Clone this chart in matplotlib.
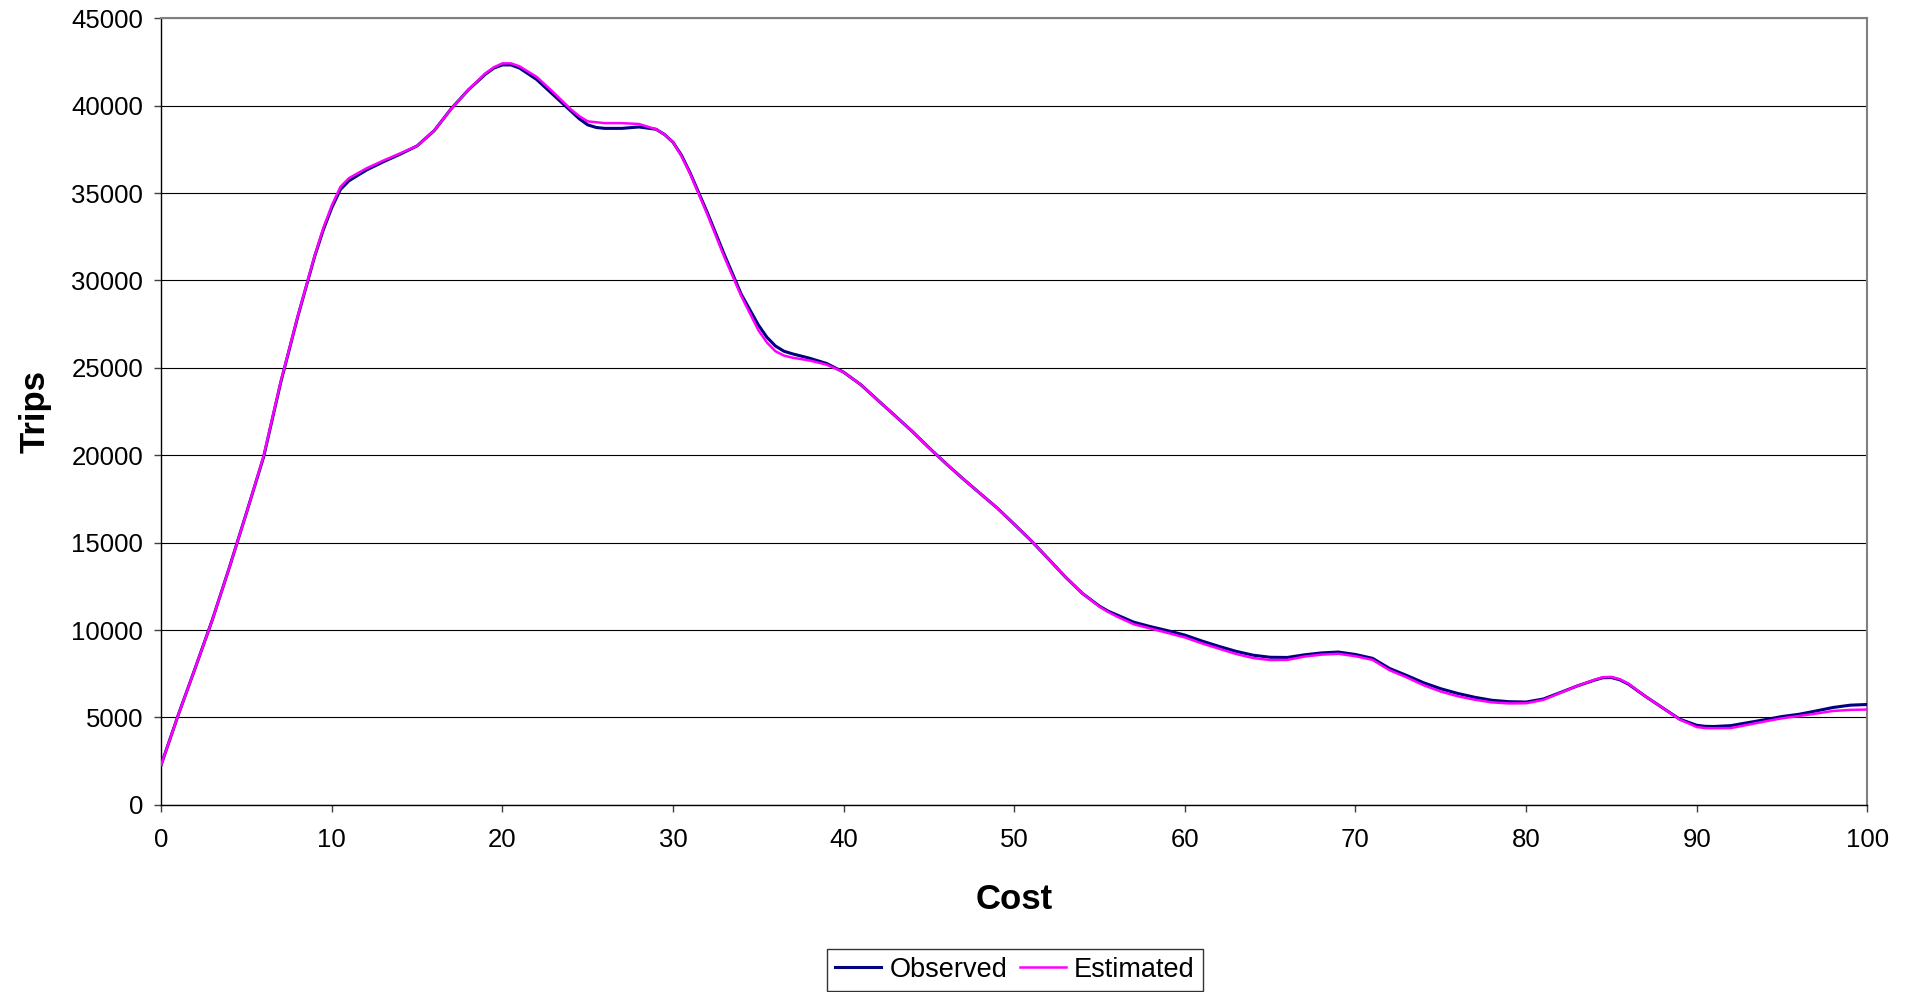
import numpy as np
import matplotlib
matplotlib.use("Agg")
import matplotlib.pyplot as plt

plt.rcParams['font.family'] = ['Liberation Sans', 'DejaVu Sans']

# cost bands (extra half steps where the curve bends)
cost = [
    0, 1, 2, 3, 4, 5, 6, 7, 8, 9, 9.5,
    10, 10.5, 11, 12, 13, 14, 15, 16, 17, 18, 19, 19.5,
    20, 20.5, 21, 22, 23, 24, 24.5, 25, 25.5, 26, 27, 28, 29, 29.5,
    30, 30.5, 31, 32, 33, 34, 35, 35.5, 36, 36.5, 37, 38, 39,
    40, 41, 42, 43, 44, 45, 46, 47, 48, 49,
    50, 51, 52, 53, 54, 55, 55.5, 56, 57, 58, 59,
    60, 61, 62, 63, 64, 65, 66, 67, 68, 69,
    70, 71, 72, 73, 74, 75, 76, 77, 78, 79,
    80, 81, 82, 83, 84, 84.5, 85, 85.5, 86, 87, 88, 89,
    90, 90.5, 91, 92, 93, 94, 95, 96, 97, 98, 99,
    100,
]

observed = [
    2300, 5150, 7850, 10600, 13600, 16720, 19900, 24150, 27920, 31400, 32900,
    34170, 35200, 35700, 36300, 36780, 37220, 37700, 38570, 39830, 40900, 41800, 42150,
    42330, 42330, 42150, 41500, 40600, 39700, 39250, 38900, 38750, 38700, 38700, 38780, 38650, 38350,
    37900, 37150, 36150, 33900, 31490, 29200, 27450, 26750, 26250, 25950, 25800, 25550, 25250,
    24750, 24040, 23150, 22270, 21380, 20430, 19520, 18650, 17810, 16980,
    16050, 15100, 14070, 13030, 12090, 11360, 11080, 10870, 10450, 10190, 9960,
    9710, 9370, 9064, 8780, 8560, 8440, 8430, 8580, 8690, 8740,
    8600, 8380, 7800, 7400, 6980, 6640, 6370, 6150, 5980, 5900,
    5880, 6050, 6420, 6800, 7130, 7270, 7280, 7150, 6900, 6200, 5550, 4900,
    4550, 4490, 4480, 4530, 4700, 4870, 5050, 5180, 5370, 5570, 5700,
    5740,
]

estimated = [
    2300, 5150, 7850, 10600, 13600, 16720, 19950, 24200, 27950, 31450, 33000,
    34300, 35350, 35850, 36400, 36850, 37270, 37700, 38570, 39830, 40900, 41850, 42200,
    42420, 42420, 42250, 41650, 40750, 39800, 39400, 39100, 39050, 39000, 39000, 38950, 38650, 38350,
    37900, 37100, 36100, 33800, 31350, 29100, 27150, 26450, 25950, 25700, 25580, 25420, 25180,
    24750, 24040, 23150, 22270, 21380, 20430, 19520, 18650, 17810, 16980,
    16050, 15100, 14070, 13030, 12090, 11330, 11030, 10780, 10330, 10080, 9830,
    9575, 9235, 8930, 8630, 8400, 8280, 8290, 8480, 8590, 8640,
    8500, 8290, 7700, 7290, 6840, 6480, 6210, 6010, 5860, 5800,
    5810, 6000, 6400, 6800, 7150, 7300, 7320, 7180, 6930, 6200, 5550, 4880,
    4450, 4390, 4380, 4390, 4580, 4770, 4950, 5080, 5220, 5370, 5430,
    5450,
]

fig = plt.figure(figsize=(19.15, 9.92), dpi=100)
ax = fig.add_axes([0.0842, 0.1887, 0.8909, 0.7929])

ax.plot(cost, observed, color='#000080', lw=2.2, label='Observed', zorder=3,
        solid_joinstyle='round')
ax.plot(cost, estimated, color='#FF00FF', lw=1.8, label='Estimated', zorder=4,
        solid_joinstyle='round')

ax.set_xlim(0, 100)
ax.set_ylim(0, 45000)
ax.set_xticks(np.arange(0, 101, 10))
ax.set_yticks(np.arange(0, 45001, 5000))
ax.yaxis.grid(True, color='black', lw=0.8)
ax.set_axisbelow(True)

ax.tick_params(axis='both', labelsize=18.5, direction='out', length=5, width=1, color='#404040')
ax.tick_params(axis='y', pad=8)
ax.tick_params(axis='x', pad=12)

for side in ['top', 'right']:
    ax.spines[side].set_color('#808080')
    ax.spines[side].set_linewidth(1.5)
for side in ['left', 'bottom']:
    ax.spines[side].set_color('black')
    ax.spines[side].set_linewidth(1.0)

ax.set_xlabel('Cost', fontsize=25, fontweight='bold', labelpad=22)
ax.set_ylabel('Trips', fontsize=25, fontweight='bold', labelpad=14)

leg = fig.legend(loc='lower center', bbox_to_anchor=(0.53, 0.001), ncol=2, fontsize=19.5,
                 frameon=True, fancybox=False, handlelength=1.7, handletextpad=0.3,
                 columnspacing=0.45, borderpad=0.3, borderaxespad=0)
leg.get_frame().set_edgecolor('black')
leg.get_frame().set_linewidth(1.0)

fig.savefig('out.png', dpi=100)
